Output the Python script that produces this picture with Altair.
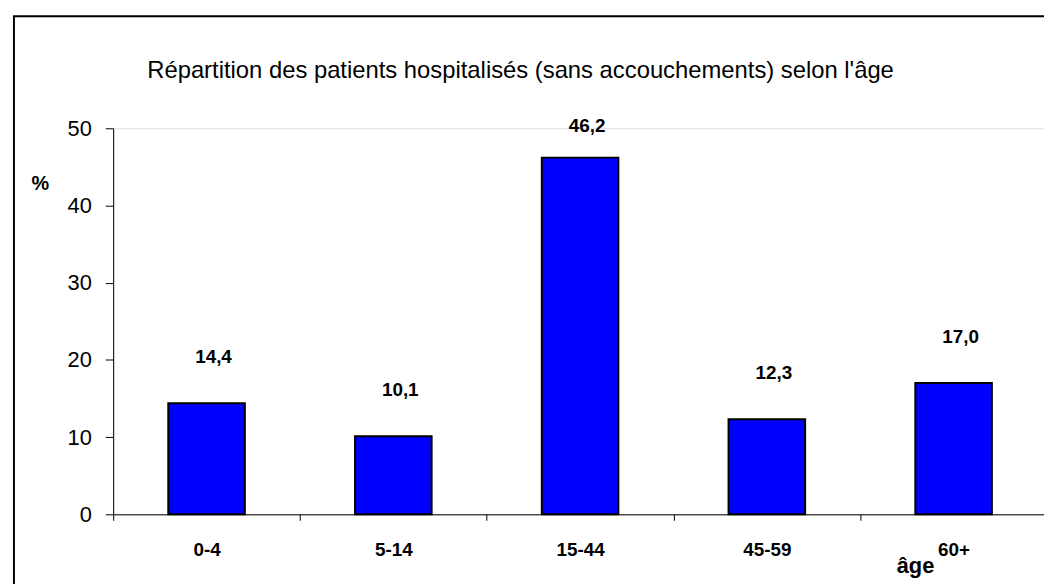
import altair as alt
import pandas as pd

categories = ["0-4", "5-14", "15-44", "45-59", "60+"]
values = [14.4, 10.1, 46.2, 12.3, 17.0]
value_labels = ["14,4", "10,1", "46,2", "12,3", "17,0"]
y_ticks = [0, 10, 20, 30, 40, 50]
title_text = "Répartition des patients hospitalisés (sans accouchements) selon l'âge"

df = pd.DataFrame({"age": categories, "pct": values, "label": value_labels})
one_df = pd.DataFrame({"f": [0]})

W, H = 941, 389
FONT = "Liberation Sans"

x_axis = alt.Axis(
    title="âge",
    titleX=808,
    titleY=59,
    titleAlign="center",
    titleBaseline="alphabetic",
    titleFont=FONT,
    titleFontSize=22,
    titleFontWeight="bold",
    titleColor="black",
    labelAngle=0,
    labelFont=FONT,
    labelFontSize=19,
    labelFontWeight="bold",
    labelColor="black",
    labelBaseline="middle",
    labelPadding=30,
    tickBand="extent",
    tickSize=6,
    tickColor="black",
    domainColor="black",
    grid=False,
)

y_axis = alt.Axis(
    values=y_ticks,
    title="%",
    titleAngle=0,
    titleX=-74,
    titleY=56,
    titleAlign="center",
    titleBaseline="middle",
    titleFont=FONT,
    titleFontSize=20,
    titleFontWeight="bold",
    titleColor="black",
    labelFont=FONT,
    labelFontSize=22,
    labelColor="black",
    labelPadding=14,
    tickSize=8,
    tickColor="black",
    domainColor="black",
    grid=False,
)

x_scale = alt.Scale(paddingInner=0, paddingOuter=0)
y_scale = alt.Scale(domain=[0, 50], nice=False, zero=True)

bars = alt.Chart(df).mark_bar(
    width=alt.RelativeBandSize(0.41),
    color="#0000FF",
    stroke="black",
    strokeWidth=2,
).encode(
    x=alt.X("age:N", sort=categories, scale=x_scale, axis=x_axis),
    y=alt.Y("pct:Q", scale=y_scale, axis=y_axis),
)

texts = alt.Chart(df).transform_calculate(
    ly="min(datum.pct + 6, 50.3)"
).mark_text(
    font=FONT, fontSize=19, fontWeight="bold", color="black", baseline="middle", dx=7
).encode(
    x=alt.X("age:N", sort=categories, scale=x_scale, axis=x_axis),
    y=alt.Y("ly:Q", scale=y_scale, axis=y_axis),
    text="label:N",
)

frame = alt.Chart(one_df).mark_rect(
    fill=None, stroke="black", strokeWidth=2
).encode(
    x=alt.value(-100), x2=alt.value(960), y=alt.value(-113), y2=alt.value(520)
)

title = alt.Chart(one_df).mark_text(
    font=FONT, fontSize=24, color="black", align="center", baseline="middle"
).encode(
    x=alt.value(410.5), y=alt.value(-58), text=alt.value(title_text)
)

chart = alt.layer(frame, title, bars, texts).properties(
    width=W,
    height=H,
    autosize=alt.AutoSizeParams(type="none"),
    padding={"left": 106, "top": 119, "right": -3, "bottom": 68},
).configure_view(strokeWidth=0).configure(background="white")

chart.save("out.html", embed_options={"renderer": "svg", "actions": False})
